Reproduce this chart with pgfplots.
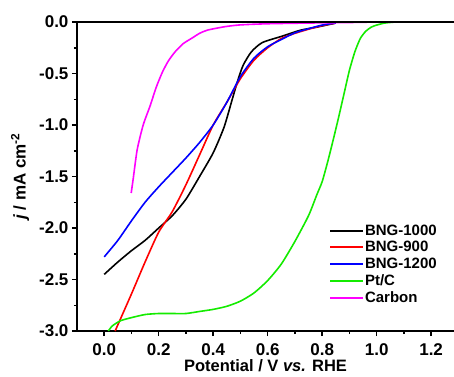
\documentclass[border=0pt]{standalone}
\usepackage{fontspec}
\setmainfont{Liberation Sans}
\usepackage{pgfplots}
\pgfplotsset{compat=1.18}
\definecolor{ptgreen}{RGB}{20,235,0}
\definecolor{carb}{RGB}{255,0,255}
\begin{document}
\begin{tikzpicture}
\begin{axis}[
  scale only axis, width=377pt, height=309pt,
  xmin=-0.1, xmax=1.284, ymin=-3.0, ymax=0.0,
  axis lines*=left,
  axis line style={line width=1.8pt},
  clip=false,
  xtick={0,0.2,0.4,0.6,0.8,1.0,1.2},
  ytick={-3,-2.5,-2,-1.5,-1,-0.5,0},
  minor x tick num=1, minor y tick num=1,
  tick align=outside,
  major tick length=5pt, minor tick length=3pt,
  every tick/.style={line width=1.5pt, black},
  /pgf/number format/assume math mode=true,
  /pgf/number format/.cd, fixed, fixed zerofill, precision=1, /pgfplots/.cd,
  ticklabel style={font=\bfseries\fontsize{17}{19}\selectfont},
  xticklabel style={anchor=center, yshift=-14pt},
  yticklabel style={anchor=east, xshift=0pt},
  xlabel={\fontsize{16.5}{18}\selectfont\bfseries Potential / V \textit{vs.} RHE},
  ylabel={\fontsize{17}{19}\selectfont\bfseries\textit{j} / mA cm\textsuperscript{-2}},
  every axis x label/.style={at={(rel axis cs:0.5,-0.113)}, anchor=center},
  every axis y label/.style={at={(rel axis cs:-0.151,0.5)}, anchor=center, rotate=90},
  legend style={at={(rel axis cs:0.668,0.348)}, anchor=north west, draw=none, fill=none,
    font=\bfseries\fontsize{15}{17}\selectfont, row sep=2.6pt, inner sep=0pt,
    nodes={inner sep=1pt}},
  legend cell align=left,
  legend image code/.code={\draw[#1, line width=2pt] (0pt,0pt) -- (33pt,0pt);},
  every axis plot/.append style={line width=1.6pt, smooth, tension=0.4},
]
\addplot[black] coordinates {
(0.0,-2.45) (0.05,-2.33) (0.1,-2.22) (0.15,-2.12) (0.2,-2.0) (0.25,-1.88)
(0.3,-1.72) (0.35,-1.5) (0.4,-1.27) (0.44,-1.02) (0.47,-0.75) (0.49,-0.57)
(0.51,-0.42) (0.54,-0.29) (0.58,-0.2) (0.65,-0.14) (0.72,-0.08) (0.78,-0.05) (0.85,-0.01)};
\addlegendentry{BNG-1000}
\addplot[red] coordinates {
(0.04,-3.0) (0.1,-2.64) (0.15,-2.33) (0.2,-2.04) (0.25,-1.84) (0.3,-1.58)
(0.35,-1.29) (0.4,-1.0) (0.45,-0.78) (0.5,-0.55) (0.55,-0.37) (0.6,-0.25)
(0.65,-0.16) (0.7,-0.11) (0.75,-0.07) (0.8,-0.035) (0.85,-0.01)};
\addlegendentry{BNG-900}
\addplot[blue] coordinates {
(0.0,-2.28) (0.05,-2.12) (0.1,-1.93) (0.15,-1.75) (0.2,-1.6) (0.25,-1.46)
(0.3,-1.32) (0.35,-1.17) (0.4,-1.0) (0.45,-0.78) (0.5,-0.53) (0.55,-0.35)
(0.6,-0.24) (0.65,-0.17) (0.7,-0.105) (0.75,-0.065) (0.8,-0.03) (0.85,-0.01)};
\addlegendentry{BNG-1200}
\addplot[ptgreen] coordinates {
(0.015,-3.0) (0.03,-2.95) (0.06,-2.9) (0.1,-2.87) (0.15,-2.84) (0.2,-2.83)
(0.25,-2.83) (0.3,-2.83) (0.35,-2.81) (0.4,-2.79) (0.45,-2.76) (0.5,-2.71)
(0.55,-2.63) (0.6,-2.51) (0.65,-2.35) (0.7,-2.13) (0.75,-1.88) (0.78,-1.68)
(0.8,-1.55) (0.82,-1.36) (0.84,-1.15) (0.86,-0.93) (0.88,-0.7) (0.9,-0.47)
(0.92,-0.29) (0.94,-0.16) (0.96,-0.09) (0.98,-0.05) (1.0,-0.03) (1.03,-0.01) (1.07,0.0)};
\addlegendentry{Pt/C}
\addplot[carb] coordinates {
(0.099,-1.66) (0.106,-1.53) (0.121,-1.24) (0.143,-1.0) (0.169,-0.81) (0.19,-0.64) (0.213,-0.49)
(0.235,-0.38) (0.26,-0.29) (0.29,-0.21) (0.323,-0.155) (0.35,-0.11) (0.38,-0.078) (0.444,-0.045) (0.5,-0.028) (0.6,-0.017)
(0.75,-0.01) (0.9,-0.005) (1.0,0.0)};
\addlegendentry{Carbon}
\draw[line width=2.5pt] (rel axis cs:0,1) -- (rel axis cs:1,1);
\coordinate (bl) at (rel axis cs:-0.2042,-0.1456);
\coordinate (tr) at (rel axis cs:1,1.0712);
\end{axis}
\pgfresetboundingbox
\path[use as bounding box] (bl) rectangle (tr);
\end{tikzpicture}
\end{document}
